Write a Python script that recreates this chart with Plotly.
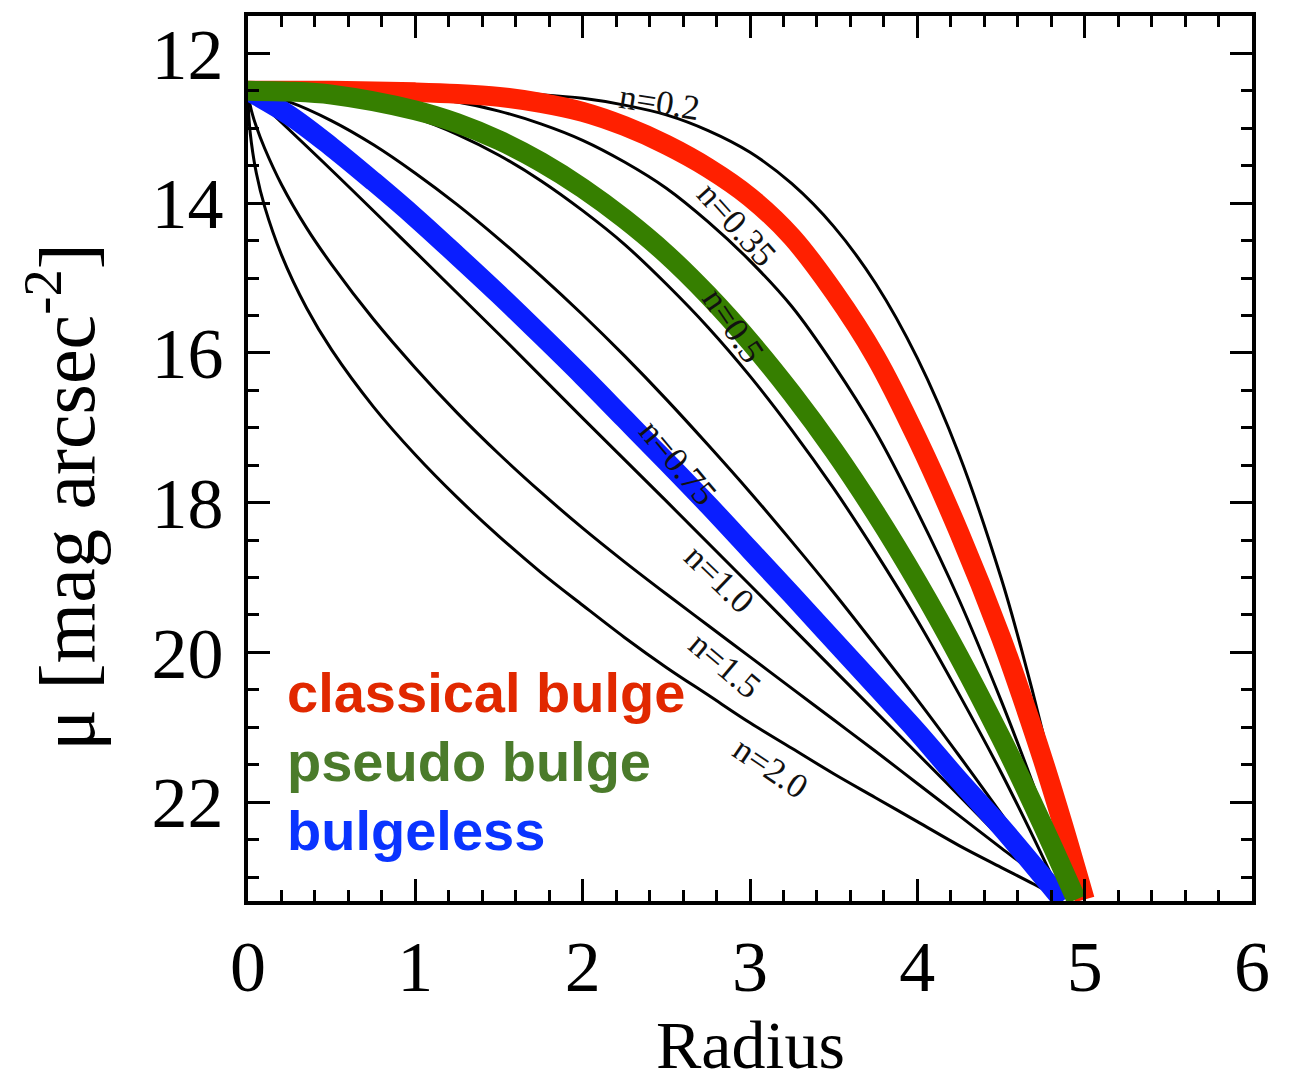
import plotly.graph_objects as go

# ---- data ----
# black template profiles (Sersic index n)
x_n02 = [0, 1.0, 1.5, 1.75, 2.0, 2.25, 2.5, 2.75, 3.0, 3.25, 3.5, 3.75, 4.0, 4.25, 4.5, 4.62, 4.75, 4.87, 4.97]
y_n02 = [12.5, 12.5, 12.52, 12.55, 12.6, 12.69, 12.82, 13.03, 13.32, 13.74, 14.31, 15.07, 16.07, 17.36, 19.0, 19.94, 21.07, 22.24, 23.3]

x_n035 = [0, 1.0, 1.25, 1.5, 1.75, 2.0, 2.25, 2.5, 2.75, 3.0, 3.25, 3.5, 3.75, 4.0, 4.25, 4.5, 4.62, 4.75, 4.85, 4.93]
y_n035 = [12.5, 12.58, 12.65, 12.77, 12.94, 13.16, 13.45, 13.8, 14.25, 14.77, 15.38, 16.16, 17.05, 18.12, 19.3, 20.64, 21.33, 22.12, 22.77, 23.3]

x_n05 = [0, 0.5, 1.0, 1.25, 1.5, 1.75, 2.0, 2.25, 2.5, 2.75, 3.0, 3.25, 3.5, 3.75, 4.0, 4.25, 4.5, 4.7, 4.8, 4.87]
y_n05 = [12.5, 12.58, 12.86, 13.08, 13.36, 13.7, 14.1, 14.55, 15.08, 15.66, 16.31, 17.03, 17.81, 18.66, 19.57, 20.56, 21.6, 22.5, 22.97, 23.3]

x_n075 = [0, 0.25, 0.5, 0.75, 1.0, 1.25, 1.5, 1.75, 2.0, 2.25, 2.5, 2.75, 3.0, 3.25, 3.5, 3.75, 4.0, 4.25, 4.5, 4.7, 4.86]
y_n075 = [12.5, 12.65, 12.9, 13.22, 13.6, 14.02, 14.48, 14.97, 15.49, 16.04, 16.62, 17.23, 17.86, 18.52, 19.2, 19.91, 20.63, 21.38, 22.15, 22.78, 23.3]

x_n10 = [0, 0.5, 1.0, 1.5, 2.0, 2.5, 3.0, 3.5, 4.0, 4.5, 4.86]
y_n10 = [12.5, 13.56, 14.65, 15.75, 16.87, 17.98, 19.1, 20.23, 21.35, 22.48, 23.3]

x_n15 = [0, 0.005, 0.02, 0.05, 0.1, 0.2, 0.35, 0.5, 0.75, 1.0, 1.25, 1.5, 1.75, 2.0, 2.25, 2.5, 2.75,
         3.0, 3.25, 3.5, 3.75, 4.0, 4.25, 4.5, 4.7, 4.86]
y_n15 = [12.5, 12.6, 12.76, 12.98, 13.27, 13.75, 14.33, 14.82, 15.55, 16.2, 16.8, 17.35, 17.86, 18.34, 18.79, 19.22, 19.64,
         20.06, 20.48, 20.9, 21.32, 21.75, 22.18, 22.61, 22.95, 23.25]

x_n20 = [0, 0.005, 0.02, 0.05, 0.1, 0.2, 0.35, 0.5, 0.75, 1.0, 1.25, 1.5, 1.75, 2.0, 2.25, 2.5, 2.75,
         3.0, 3.25, 3.5, 3.75, 4.0, 4.25, 4.5, 4.7, 4.86]
y_n20 = [12.5, 12.85, 13.19, 13.6, 14.05, 14.69, 15.4, 15.96, 16.72, 17.36, 17.93, 18.45, 18.93, 19.37, 19.8, 20.2, 20.57,
         20.94, 21.28, 21.62, 21.94, 22.26, 22.58, 22.87, 23.1, 23.3]

# thick coloured profiles
x_classical = [0, 0.5, 1.0, 1.25, 1.5, 1.75, 2.0, 2.25, 2.5, 2.75, 3.0, 3.25, 3.5, 3.75, 4.0, 4.25, 4.5, 4.62, 4.75, 4.87, 5.0]
y_classical = [12.5, 12.5, 12.52, 12.54, 12.58, 12.66, 12.78, 12.97, 13.22, 13.53, 13.92, 14.45, 15.18, 16.05, 17.15, 18.4, 19.8, 20.56, 21.43, 22.3, 23.3]

x_pseudo = [0, 0.25, 0.5, 1.0, 1.25, 1.5, 1.75, 2.0, 2.25, 2.5, 2.75, 3.0, 3.25, 3.5, 3.75, 4.0, 4.25, 4.5, 4.62, 4.75, 4.85, 4.95]
y_pseudo = [12.5, 12.51, 12.55, 12.76, 12.93, 13.16, 13.45, 13.8, 14.21, 14.68, 15.23, 15.85, 16.54, 17.3, 18.14, 19.06, 20.06, 21.14, 21.69, 22.31, 22.8, 23.3]

x_bulgeless = [0, 0.25, 0.5, 0.75, 1.0, 1.25, 1.5, 1.75, 2.0, 2.25, 2.5, 2.75, 3.0, 3.25, 3.5, 3.75, 4.0, 4.25, 4.5, 4.7, 4.87]
y_bulgeless = [12.5, 12.83, 13.25, 13.71, 14.19, 14.7, 15.22, 15.76, 16.31, 16.88, 17.45, 18.03, 18.63, 19.23, 19.84, 20.45, 21.06, 21.71, 22.33, 22.86, 23.32]

# curve labels: text, x, y, angle
label_text = ["n=0.2", "n=0.35", "n=0.5", "n=0.75", "n=1.0", "n=1.5", "n=2.0"]
label_x = [2.46, 2.92, 2.90, 2.57, 2.82, 2.85, 3.12]
label_y = [12.65, 14.29, 15.63, 17.46, 19.02, 20.18, 21.54]
label_angle = [9, 48, 56, 50, 44, 40, 34]

legend_text = ["classical bulge", "pseudo bulge", "bulgeless"]
legend_color = ["#E12800", "#4B7B2B", "#0A34FF"]
legend_y = [20.53, 21.46, 22.38]

x_ticks = [0, 1, 2, 3, 4, 5, 6]
y_ticks = [12, 14, 16, 18, 20, 22]

# ---- figure ----
fig = go.Figure()

black_curves = [(x_n02, y_n02), (x_n035, y_n035), (x_n05, y_n05), (x_n075, y_n075),
                (x_n10, y_n10), (x_n15, y_n15), (x_n20, y_n20)]
for xs, ys in black_curves:
    fig.add_trace(go.Scatter(x=xs, y=ys, mode="lines",
                             line=dict(color="black", width=3, shape="spline", smoothing=1.0),
                             hoverinfo="skip", showlegend=False))

fig.add_trace(go.Scatter(x=x_classical, y=y_classical, mode="lines",
                         line=dict(color="#FF2000", width=20, shape="spline", smoothing=1.0),
                         name="classical bulge", showlegend=False))
fig.add_trace(go.Scatter(x=x_bulgeless, y=y_bulgeless, mode="lines",
                         line=dict(color="#0A1EFF", width=20, shape="spline", smoothing=1.0),
                         name="bulgeless", showlegend=False))
fig.add_trace(go.Scatter(x=x_pseudo, y=y_pseudo, mode="lines",
                         line=dict(color="#367F00", width=20, shape="spline", smoothing=1.0),
                         name="pseudo bulge", showlegend=False))

annotations = []
for t, lx, ly, ang in zip(label_text, label_x, label_y, label_angle):
    annotations.append(dict(x=lx, y=ly, xref="x", yref="y", text=t, showarrow=False,
                            textangle=ang, xanchor="center", yanchor="middle",
                            font=dict(family="Liberation Serif", size=35, color="#111111")))

for t, c, ly in zip(legend_text, legend_color, legend_y):
    annotations.append(dict(x=0.22, y=ly, xref="x", yref="y", text="<b>%s</b>" % t,
                            showarrow=False, xanchor="left", yanchor="middle",
                            font=dict(family="Liberation Sans", size=56, color=c)))

annotations.append(dict(x=-0.186, y=0.456, xref="paper", yref="paper",
                        text="μ [mag arcsec<sup>-2</sup>]", showarrow=False, textangle=-90,
                        xanchor="center", yanchor="middle",
                        font=dict(family="Liberation Serif", size=78, color="black")))
annotations.append(dict(x=0.5, y=-0.163, xref="paper", yref="paper",
                        text="Radius", showarrow=False,
                        xanchor="center", yanchor="middle",
                        font=dict(family="Liberation Serif", size=68, color="black")))

axis_common = dict(ticks="inside", ticklen=22, tickwidth=3, tickcolor="black",
                   showline=True, linewidth=4, linecolor="black", mirror="ticks",
                   showgrid=False, zeroline=False,
                   tickfont=dict(family="Liberation Serif", size=72, color="black"))

fig.update_layout(
    width=1293, height=1082,
    margin=dict(l=247.5, r=41, t=13, b=181),
    plot_bgcolor="white", paper_bgcolor="white",
    showlegend=False,
    annotations=annotations,
    xaxis=dict(range=[0, 6], tickmode="array", tickvals=x_ticks,
               ticktext=[str(v) for v in x_ticks],
               minor=dict(dtick=0.2, tick0=0, ticks="inside", ticklen=11, tickwidth=3,
                          tickcolor="black", showgrid=False),
               **axis_common),
    yaxis=dict(range=[23.32, 11.5], tickmode="array", tickvals=y_ticks,
               ticktext=[str(v) for v in y_ticks], ticklabelstandoff=6,
               minor=dict(dtick=0.5, tick0=0, ticks="inside", ticklen=11, tickwidth=3,
                          tickcolor="black", showgrid=False),
               **axis_common),
)

fig.write_html("out.html")
